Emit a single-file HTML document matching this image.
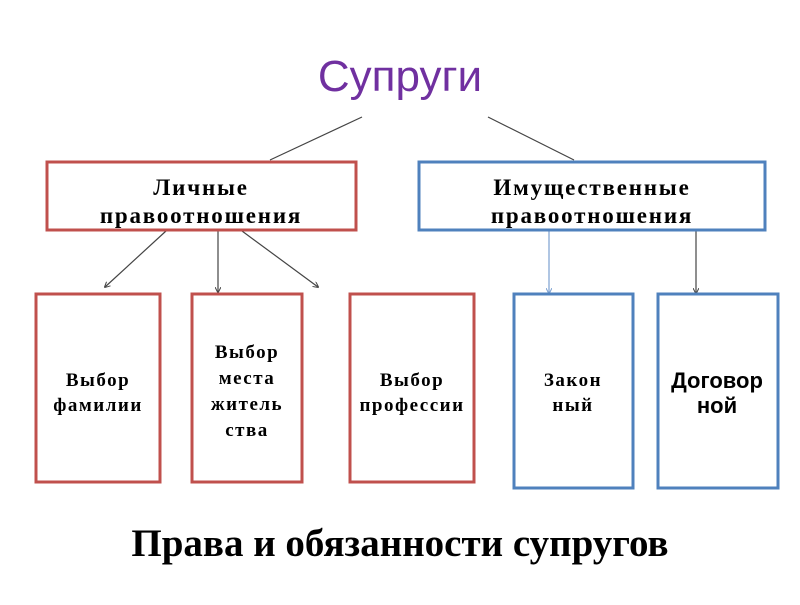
<!DOCTYPE html>
<html><head><meta charset="utf-8"><style>html,body{margin:0;padding:0;background:#fff}</style></head>
<body>
<svg width="800" height="600" xmlns="http://www.w3.org/2000/svg">
<defs>
<marker id="a" markerWidth="6" markerHeight="6" refX="5" refY="3" orient="auto" markerUnits="userSpaceOnUse"><path d="M0,0 L6,3 L0,6" fill="none" stroke="#444" stroke-width="1"/></marker>
<marker id="b" markerWidth="6" markerHeight="6" refX="5" refY="3" orient="auto" markerUnits="userSpaceOnUse"><path d="M0,0 L6,3 L0,6" fill="none" stroke="#7a9fd0" stroke-width="1"/></marker>
</defs>
<text x="400" y="91" text-anchor="middle" font-family="Liberation Sans, sans-serif" font-size="44" fill="#7030a0">Супруги</text>
<g stroke="#444" stroke-width="1.2" fill="none">
<line x1="270" y1="160" x2="362" y2="117"/>
<line x1="488" y1="117" x2="574" y2="160"/>
<line x1="166" y1="231" x2="105" y2="287" marker-end="url(#a)"/>
<line x1="218" y1="231" x2="218" y2="292" marker-end="url(#a)"/>
<line x1="242" y1="231" x2="318" y2="287" marker-end="url(#a)"/>
<line x1="696" y1="231" x2="696" y2="293" marker-end="url(#a)"/>
</g>
<line x1="549" y1="231" x2="549" y2="293" stroke="#7a9fd0" stroke-width="1.2" marker-end="url(#b)"/>
<g fill="#fff" stroke-width="3">
<rect x="47" y="162" width="309" height="68" stroke="#c0504d"/>
<rect x="419" y="162" width="346" height="68" stroke="#4f81bd"/>
<rect x="36" y="294" width="124" height="188" stroke="#c0504d"/>
<rect x="192" y="294" width="110" height="188" stroke="#c0504d"/>
<rect x="350" y="294" width="124" height="188" stroke="#c0504d"/>
<rect x="514" y="294" width="119" height="194" stroke="#4f81bd"/>
<rect x="658" y="294" width="120" height="194" stroke="#4f81bd"/>
</g>
<g font-family="Liberation Serif, serif" font-weight="bold" text-anchor="middle" fill="#000">
<text font-size="23" letter-spacing="1.8"><tspan x="201" y="195">Личные</tspan><tspan x="201" y="223">правоотношения</tspan></text>
<text font-size="23" letter-spacing="1.8"><tspan x="592" y="195">Имущественные</tspan><tspan x="592" y="223">правоотношения</tspan></text>
<text font-size="19" letter-spacing="1.5"><tspan x="98" y="386">Выбор</tspan><tspan x="98" y="411">фамилии</tspan></text>
<text font-size="19" letter-spacing="1.5"><tspan x="247" y="358">Выбор</tspan><tspan x="247" y="384">места</tspan><tspan x="247" y="410">житель</tspan><tspan x="247" y="436">ства</tspan></text>
<text font-size="19" letter-spacing="1.5"><tspan x="412" y="386">Выбор</tspan><tspan x="412" y="411">профессии</tspan></text>
<text font-size="19" letter-spacing="1.5"><tspan x="573" y="386">Закон</tspan><tspan x="573" y="411">ный</tspan></text>
<text font-size="39" x="400" y="556">Права и обязанности супругов</text>
</g>
<text font-family="Liberation Sans, sans-serif" font-weight="bold" font-size="22" text-anchor="middle"><tspan x="717" y="388">Договор</tspan><tspan x="717" y="413">ной</tspan></text>
</svg>
</body></html>
